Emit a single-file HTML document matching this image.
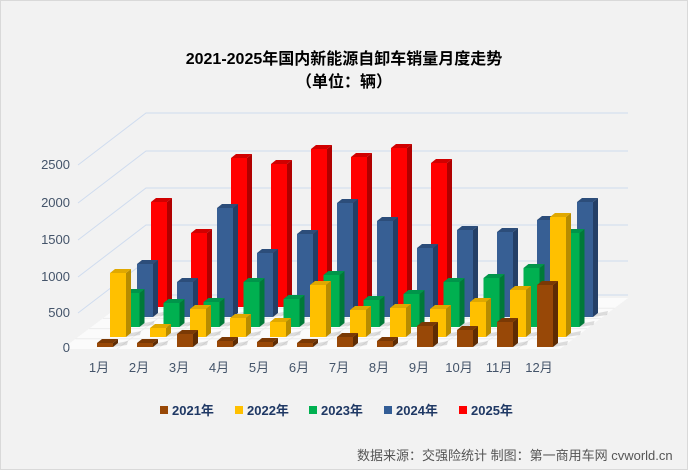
<!DOCTYPE html>
<html><head><meta charset="utf-8"><style>
html,body{margin:0;padding:0;background:#fff}
svg{display:block}
text{font-family:"Liberation Sans","Noto Sans CJK SC",sans-serif}
</style></head><body>
<svg id="s" width="688" height="470" viewBox="0 0 688 470" xmlns="http://www.w3.org/2000/svg">
<rect x="0.5" y="0.5" width="687" height="469" fill="#f2f2f2" stroke="#d9d9d9"/>
<text x="344" y="64" text-anchor="middle" font-size="16" font-weight="bold" fill="#000">2021-2025年国内新能源自卸车销量月度走势</text>
<text x="344" y="87" text-anchor="middle" font-size="16" font-weight="bold" fill="#000">（单位：辆）</text>
<g id="grid" stroke="#cfdcef" stroke-width="1" fill="none"></g>
<polygon points="62,349 560,349 628,298 130,298" fill="#fbfbfb"/>
<g id="floor" stroke="#ececec" stroke-width="1"></g>
<g id="bars"></g>
<g font-size="13" fill="#44546a" text-anchor="end">
<text x="70" y="352">0</text><text x="70" y="317">500</text><text x="70" y="281">1000</text>
<text x="70" y="244">1500</text><text x="70" y="207">2000</text><text x="70" y="169">2500</text>
</g>
<g font-size="13" fill="#44546a" text-anchor="middle">
<text x="99" y="372">1月</text><text x="139" y="372">2月</text><text x="179" y="372">3月</text>
<text x="219" y="372">4月</text><text x="259" y="372">5月</text><text x="299" y="372">6月</text>
<text x="339" y="372">7月</text><text x="379" y="372">8月</text><text x="419" y="372">9月</text>
<text x="459" y="372">10月</text><text x="499" y="372">11月</text><text x="539" y="372">12月</text>
</g>
<g font-size="13" font-weight="bold" fill="#1f3864">
<rect x="160" y="406" width="8" height="8" fill="#984807"/><text x="172" y="415">2021年</text>
<rect x="235" y="406" width="8" height="8" fill="#ffc000"/><text x="247" y="415">2022年</text>
<rect x="309" y="406" width="8" height="8" fill="#00b050"/><text x="321" y="415">2023年</text>
<rect x="384" y="406" width="8" height="8" fill="#335d96"/><text x="396" y="415">2024年</text>
<rect x="459" y="406" width="8" height="8" fill="#ff0000"/><text x="471" y="415">2025年</text>
</g>
<text x="357" y="460" font-size="13" fill="#555">数据来源：交强险统计 制图：第一商用车网 cvworld.cn</text>
</svg>
<script>
var NS="http://www.w3.org/2000/svg";
function el(p,t,a){var e=document.createElementNS(NS,t);for(var k in a)e.setAttribute(k,a[k]);p.appendChild(e);return e;}
var g=document.getElementById('grid');
[0,1,2,3,4,5].forEach(function(i){
  var ly=[347,313,277,240,203,165][i];
  el(g,'polyline',{points:"78,"+ly+" 146,"+(ly-52)+" 628,"+(ly-52)});
});
var f=document.getElementById('floor');
for(var r=1;r<5;r++){var y=349-r*10.2, x=62+r*13.6; el(f,'line',{x1:x,y1:y,x2:x+498,y2:y});}
for(var m=1;m<12;m++){var x=77+40*m; el(f,'line',{x1:x,y1:349,x2:x+68,y2:298});}
var rows=[
 {c:["#ff0000","#b00000","#d00000"],x:151,b:307,t:[202,233,158,164,149,157,148,163]},
 {c:["#375f94","#243f66","#2c4d7a"],x:137,b:317,t:[264,282,208,253,234,203,221,248,230,232,220,202]},
 {c:["#00b050","#007a38","#00954a"],x:123.5,b:327,t:[293,303,302,282,299,275,300,294,282,278,268,233]},
 {c:["#ffc000","#b88c00","#e0a800"],x:110,b:337,t:[273,328,309,318,322,285,310,308,309,302,290,217]},
 {c:["#984807","#5e2c04","#7a3905"],x:97,b:347,t:[343,343,334,341,342,343,337,341,326,330,322,285]}
];
var B=document.getElementById('bars');
rows.forEach(function(R){
  R.t.forEach(function(top,m){
    var x=R.x+40*m,w=16,d=5,h=4,b=R.b;
    el(B,'polygon',{points:(x+w)+","+b+" "+(x+w+14)+","+(b-2)+" "+(x+w+d+10)+","+(b-6)+" "+(x+w+d)+","+(b-h),fill:"rgba(0,0,0,0.12)"});
    el(B,'polygon',{points:(x+w)+","+top+" "+(x+w+d)+","+(top-h)+" "+(x+w+d)+","+(b-h)+" "+(x+w)+","+b,fill:R.c[1]});
    el(B,'polygon',{points:x+","+top+" "+(x+d)+","+(top-h)+" "+(x+w+d)+","+(top-h)+" "+(x+w)+","+top,fill:R.c[2]});
    el(B,'rect',{x:x,y:top,width:w,height:b-top,fill:R.c[0]});
  });
});
</script>
</body></html>
